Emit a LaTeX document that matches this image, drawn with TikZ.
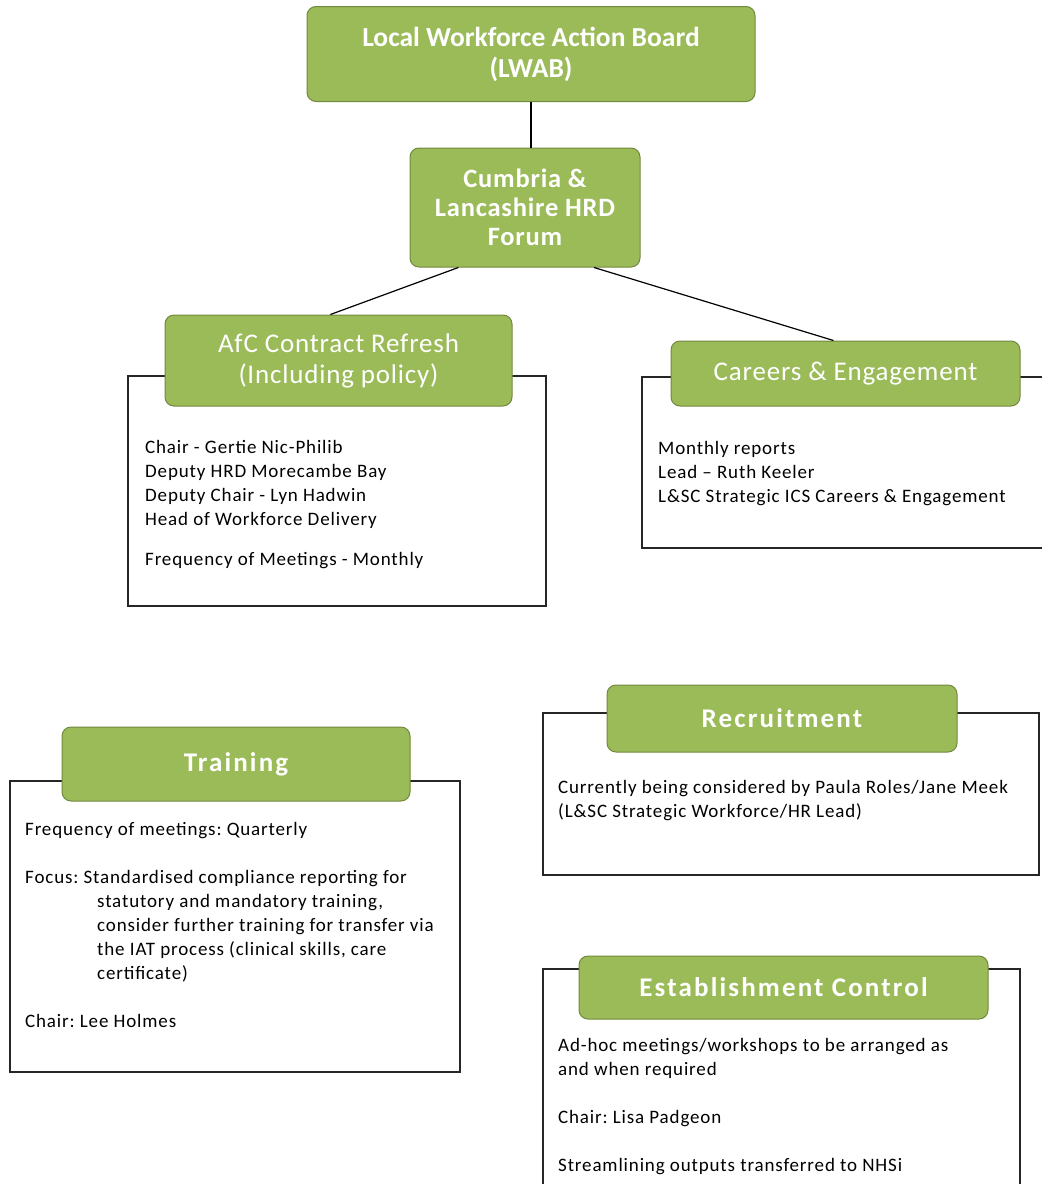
\documentclass[tikz,border=0pt]{standalone}
\usepackage{fontspec}
\setmainfont{Carlito}
\newfontfamily\bodyfont[LetterSpace=4.5]{Carlito}
\newfontfamily\titlefont[LetterSpace=3]{Carlito}
\newfontfamily\widetitlefont[LetterSpace=8]{Carlito}
\usepackage{tikz}
\usetikzlibrary{positioning}
\definecolor{boxgreen}{RGB}{155,187,89}
\definecolor{boxedge}{RGB}{113,137,62}
\frenchspacing

\tikzset{
  greenbox/.style={draw=boxedge, fill=boxgreen, rounded corners=9pt, line width=1pt,
    text=white, align=center, inner sep=4pt, font=\titlefont\fontsize{27}{31}\selectfont},
  widegreenbox/.style={greenbox, font=\widetitlefont\bfseries\fontsize{27}{31}\selectfont},
  panel/.style={draw=black!85, fill=white, line width=1.3pt, inner sep=0pt},
  bodytext/.style={anchor=north west, align=left, inner sep=0pt,
    font=\bodyfont\fontsize{19}{24}\selectfont},
  link/.style={draw=black, line width=1.2pt}
}

\begin{document}
\begin{tikzpicture}[x=1pt, y=-1pt]
  \useasboundingbox (0,0) rectangle (1042,1184);
  \clip (0,0) rectangle (1042,1184);

  % top of the tree
  \node[greenbox, minimum width=448, minimum height=95, font=\rmfamily\fontsize{27.5}{31}\selectfont] (lwab) at (531,54)
    {\bfseries Local Workforce Action Board\\\bfseries (LWAB)};
  \node[greenbox, minimum width=230, minimum height=119, font=\titlefont\fontsize{26.5}{29}\selectfont] (forum) at (525,207.5)
    {\bfseries Cumbria \&\\\bfseries Lancashire HRD\\\bfseries Forum};

  % framed groups, green heading over the frame
  \node[panel, minimum width=418, minimum height=230] (afcpanel) at (337,491) {};
  \node[greenbox, minimum width=347, minimum height=91] (afc) at (338.5,360.5)
    {AfC Contract Refresh\\(Including policy)};
  \node[bodytext] (afctext) at (145,440)
    {Chair - Gertie Nic-Philib\\
     Deputy HRD Morecambe Bay\\
     Deputy Chair - Lyn Hadwin\\
     Head of Workforce Delivery\\[16pt]
     Frequency of Meetings - Monthly};

  \node[panel, minimum width=418, minimum height=171] (careerspanel) at (851,462.5) {};
  \node[greenbox, minimum width=349, minimum height=65] (careers) at (845.5,373.5)
    {Careers \& Engagement};
  \node[bodytext] (careerstext) at (658,441)
    {Monthly reports\\
     Lead – Ruth Keeler\\
     L\&SC Strategic ICS Careers \& Engagement};

  \node[panel, minimum width=450, minimum height=291] (trainingpanel) at (235,926.5) {};
  \node[widegreenbox, minimum width=348, minimum height=74] (training) at (236,764)
    {Training};
  \node[bodytext] (trainingtext) at (25,822)
    {Frequency of meetings: Quarterly\\[24pt]
     Focus: Standardised compliance reporting for\\
     \hspace*{72pt}statutory and mandatory training,\\
     \hspace*{72pt}consider further training for transfer via\\
     \hspace*{72pt}the IAT process (clinical skills, care\\
     \hspace*{72pt}certificate)\\[24pt]
     Chair: Lee Holmes};

  \node[panel, minimum width=496, minimum height=162] (recruitpanel) at (791,794) {};
  \node[widegreenbox, minimum width=350, minimum height=67] (recruit) at (782,718.5)
    {Recruitment};
  \node[bodytext] (recruittext) at (558,780)
    {Currently being considered by Paula Roles/Jane Meek\\
     (L\&SC Strategic Workforce/HR Lead)};

  \node[panel, minimum width=477, minimum height=231] (estpanel) at (781.5,1084.5) {};
  \node[widegreenbox, minimum width=409, minimum height=63] (est) at (783.5,987.5)
    {Establishment Control};
  \node[bodytext] (esttext) at (558,1038)
    {Ad-hoc meetings/workshops to be arranged as\\
     and when required\\[24pt]
     Chair: Lisa Padgeon\\[24pt]
     Streamlining outputs transferred to NHSi};

  % connectors
  \draw[link] (lwab.south) -- (lwab.south |- forum.north);
  \draw[link] (forum.222) -- (afc.100);
  \draw[link] (forum.319) -- (careers.110);
\end{tikzpicture}
\end{document}
